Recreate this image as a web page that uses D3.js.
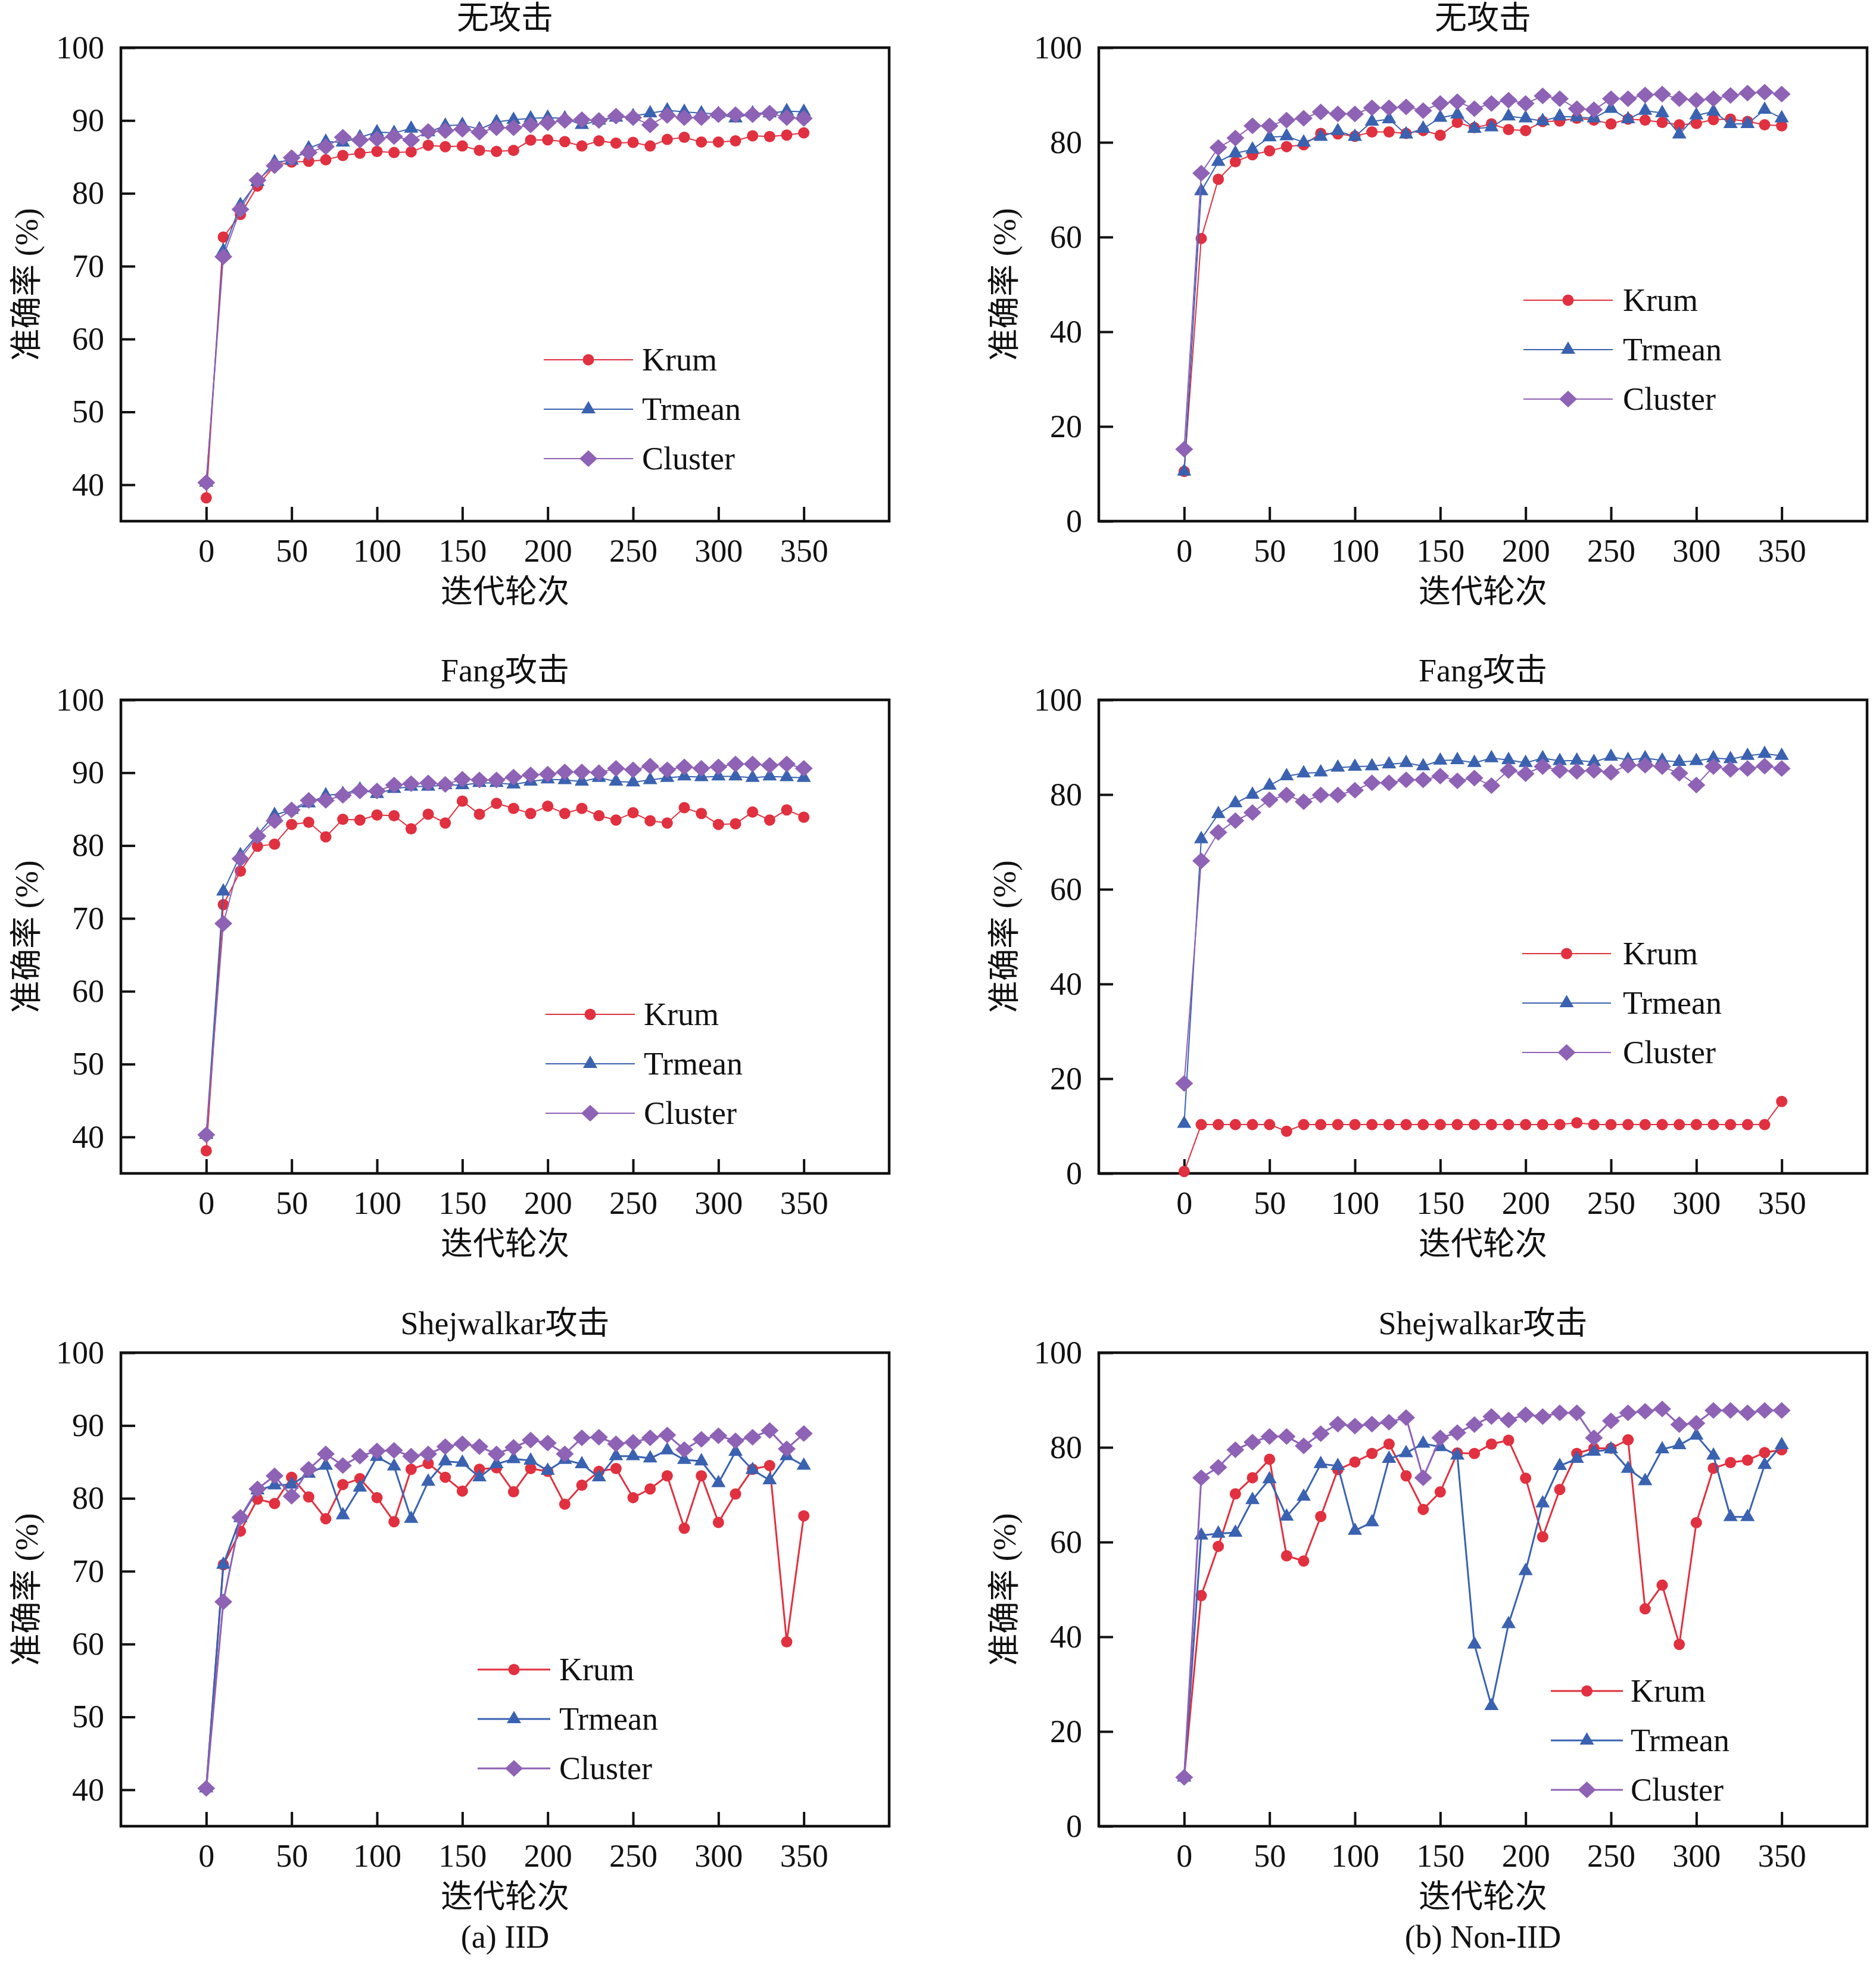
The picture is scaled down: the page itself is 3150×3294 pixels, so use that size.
<!DOCTYPE html>
<html>
<head>
<meta charset="utf-8">
<script src="https://cdn.jsdelivr.net/npm/d3@7"></script>
<style>
  html, body { margin: 0; padding: 0; background: #fff; }
  svg text { font-family: "Liberation Serif", "Noto Sans CJK SC", serif; fill: #111; }
</style>
</head>
<body>
<svg id="chart" width="3150" height="3294"></svg>
<script>
// ---------------- data ----------------
const iterations = [0,10,20,30,40,50,60,70,80,90,100,110,120,130,140,150,160,170,180,190,200,210,220,230,240,250,260,270,280,290,300,310,320,330,340,350];
const seriesNames = ["Krum", "Trmean", "Cluster"];
const xTicks = [0,50,100,150,200,250,300,350];
const yTicksIid = [40,50,60,70,80,90,100];
const yTicksNonIid = [0,20,40,60,80,100];
const panelTitles = ["无攻击", "无攻击", "Fang攻击", "Fang攻击", "Shejwalkar攻击", "Shejwalkar攻击"];
const xAxisTitle = "迭代轮次";
const yAxisTitle = "准确率 (%)";
const subCaptions = ["(a) IID", "(b) Non-IID"];

// IID, no attack
const krumIidNone    = [38.2,74.0,77.1,81.0,83.8,84.3,84.4,84.6,85.2,85.5,85.75,85.6,85.7,86.6,86.4,86.5,85.9,85.75,85.9,87.3,87.35,87.1,86.5,87.2,86.9,87.0,86.5,87.4,87.7,87.05,87.05,87.2,87.9,87.8,88.0,88.3];
const trmeanIidNone  = [40.3,72.1,78.4,81.6,84.3,84.5,86.2,87.1,87.0,87.7,88.4,88.3,88.9,88.4,89.3,89.4,88.8,89.8,90.1,90.3,90.4,90.3,89.4,90.0,90.4,90.6,91.0,91.4,91.2,91.0,90.9,90.3,91.0,91.0,91.3,91.2];
const clusterIidNone = [40.3,71.3,77.8,81.8,83.8,84.9,85.6,86.4,87.7,87.3,87.5,87.8,87.3,88.5,88.6,88.8,88.4,89.0,89.0,89.4,89.7,90.0,90.1,90.0,90.6,90.4,89.4,90.7,90.4,90.4,90.8,90.8,90.8,91.0,90.4,90.3];

// Non-IID, no attack
const krumNonIidNone    = [10.5,59.7,72.2,75.9,77.4,78.2,79.1,79.5,81.9,81.8,81.3,82.2,82.2,81.9,82.5,81.5,84.2,83.1,83.9,82.7,82.5,84.4,84.5,85.1,84.7,83.9,84.9,84.7,84.2,83.7,84.0,84.8,84.9,84.4,83.7,83.5];
const trmeanNonIidNone  = [10.5,69.7,75.9,77.7,78.5,81.1,81.3,80.0,81.2,82.4,81.2,84.4,84.9,81.7,82.9,85.2,85.9,82.9,83.2,85.5,85.1,84.5,85.5,85.3,85.1,87.1,84.9,86.7,86.2,81.7,85.7,86.5,83.9,83.9,86.9,85.1];
const clusterNonIidNone = [15.2,73.5,78.9,80.9,83.5,83.5,84.7,85.1,86.4,86.0,86.0,87.3,87.3,87.5,86.7,88.2,88.6,87.1,88.2,88.9,88.2,89.8,89.2,87.1,86.9,89.2,89.2,90.0,90.2,89.2,88.9,89.2,89.9,90.4,90.6,90.2];

// IID, Fang attack
const krumIidFang    = [38.1,71.9,76.5,79.9,80.2,82.9,83.2,81.2,83.6,83.5,84.2,84.1,82.3,84.3,83.1,86.1,84.3,85.8,85.1,84.4,85.4,84.4,85.1,84.1,83.5,84.5,83.4,83.1,85.2,84.4,82.9,83.0,84.6,83.5,84.9,83.9];
const trmeanIidFang  = [40.3,73.7,78.7,81.5,84.2,84.9,85.8,86.9,87.1,87.7,87.1,87.8,88.1,88.1,88.3,88.3,88.6,88.6,88.4,88.8,89.1,89.0,88.8,89.3,88.8,88.7,89.0,89.3,89.5,89.4,89.5,89.5,89.3,89.5,89.4,89.3];
const clusterIidFang = [40.3,69.3,78.2,81.3,83.4,84.9,86.2,86.2,86.9,87.5,87.5,88.3,88.5,88.6,88.4,89.1,89.0,89.0,89.4,89.7,89.8,90.1,90.1,90.0,90.6,90.4,90.9,90.4,90.8,90.6,90.8,91.2,91.2,91.0,91.2,90.6];

// Non-IID, Fang attack
const krumNonIidFang    = [0.4,10.3,10.3,10.3,10.3,10.3,8.9,10.3,10.3,10.3,10.3,10.3,10.3,10.3,10.3,10.3,10.3,10.3,10.3,10.3,10.3,10.3,10.3,10.7,10.3,10.3,10.3,10.3,10.3,10.3,10.3,10.3,10.3,10.3,10.3,15.2];
const trmeanNonIidFang  = [10.5,70.6,75.9,78.2,80.0,81.9,83.9,84.5,84.7,85.7,85.9,86.0,86.4,86.7,86.0,87.2,87.3,86.7,87.7,87.3,86.7,87.7,87.1,87.2,86.9,88.0,87.3,87.7,87.2,86.9,87.1,87.7,87.5,88.2,88.6,88.2];
const clusterNonIidFang = [19.0,66.0,72.0,74.5,76.2,78.9,79.9,78.5,79.9,79.9,80.9,82.5,82.5,83.1,83.1,83.9,82.9,83.5,81.9,85.1,84.4,85.9,85.1,84.9,85.1,84.7,86.2,86.2,85.9,84.5,82.0,85.9,85.3,85.5,86.0,85.5];

// IID, Shejwalkar attack
const krumIidShej    = [40.2,70.9,75.5,79.9,79.3,82.9,80.2,77.2,81.9,82.7,80.1,76.8,84.0,84.8,82.9,81.0,84.0,84.2,80.9,84.1,83.7,79.2,81.8,83.7,84.1,80.1,81.3,83.1,75.9,83.1,76.7,80.6,84.0,84.5,60.3,77.6];
const trmeanIidShej  = [40.2,70.9,77.3,81.1,81.8,81.9,83.4,84.5,77.7,81.5,85.7,84.4,77.2,82.3,85.1,84.9,82.9,84.7,85.4,85.2,83.8,85.3,84.7,82.9,85.8,85.8,85.5,86.6,85.3,85.1,82.1,86.4,83.9,82.5,85.8,84.5];
const clusterIidShej = [40.2,65.8,77.4,81.3,83.1,80.3,84.0,86.1,84.5,85.8,86.5,86.6,85.8,86.1,87.1,87.5,87.1,86.1,87.0,88.0,87.6,86.1,88.3,88.4,87.5,87.7,88.3,88.7,86.7,88.1,88.6,87.9,88.4,89.3,86.8,88.9];

// Non-IID, Shejwalkar attack
const krumNonIidShej    = [10.3,48.7,59.1,70.2,73.6,77.5,57.1,56.0,65.4,75.3,76.9,78.7,80.7,74.0,66.9,70.6,78.8,78.7,80.7,81.5,73.5,61.1,71.1,78.7,79.8,79.8,81.6,45.9,50.9,38.4,64.1,75.6,76.8,77.3,78.9,79.5];
const trmeanNonIidShej  = [10.3,61.4,61.8,62.0,68.9,73.3,65.4,69.6,76.5,76.1,62.4,64.2,77.6,78.8,80.8,80.1,78.3,38.4,25.4,42.7,53.9,68.2,76.1,77.6,79.1,79.6,75.5,72.9,79.6,80.5,82.5,78.3,65.3,65.3,76.3,80.5];
const clusterNonIidShej = [10.3,73.6,75.8,79.5,81.1,82.3,82.3,80.3,82.9,84.9,84.5,84.9,85.3,86.3,73.6,82.0,83.1,84.8,86.5,85.8,86.9,86.5,87.3,87.3,82.0,85.6,87.3,87.6,88.1,84.8,85.1,87.8,87.8,87.3,87.8,87.8];

// ---------------- layout / style ----------------
const colors = ["#E1303F", "#3A62B0", "#8E62B5"];
const colLeft = [203, 1845];
const rowTop = [80, 1175, 2271];
const plotW = 1290, plotH = 795;
const fontSize = 54;

const panels = [
  {col:0,row:0, yDomain:[35,100], yTicks:yTicksIid,    series:[krumIidNone, trmeanIidNone, clusterIidNone],          legend:{x1:710,x2:860,tx:875,y0:524}, lw:2},
  {col:1,row:0, yDomain:[0,100],  yTicks:yTicksNonIid, series:[krumNonIidNone, trmeanNonIidNone, clusterNonIidNone], legend:{x1:713,x2:863,tx:880,y0:424}, lw:2},
  {col:0,row:1, yDomain:[35,100], yTicks:yTicksIid,    series:[krumIidFang, trmeanIidFang, clusterIidFang],          legend:{x1:713,x2:863,tx:878,y0:528}, lw:2},
  {col:1,row:1, yDomain:[0,100],  yTicks:yTicksNonIid, series:[krumNonIidFang, trmeanNonIidFang, clusterNonIidFang], legend:{x1:711,x2:860,tx:880,y0:426}, lw:2},
  {col:0,row:2, yDomain:[35,100], yTicks:yTicksIid,    series:[krumIidShej, trmeanIidShej, clusterIidShej],          legend:{x1:599,x2:721,tx:736,y0:532}, lw:3},
  {col:1,row:2, yDomain:[0,100],  yTicks:yTicksNonIid, series:[krumNonIidShej, trmeanNonIidShej, clusterNonIidShej], legend:{x1:759,x2:880,tx:893,y0:568}, lw:3}
];
const legendGap = 83;

const svg = d3.select("#chart");
svg.append("rect").attr("width", 3150).attr("height", 3294).attr("fill", "#fff");

function markerPath(k) {
  if (k === 0) return d3.symbol().type(d3.symbolCircle).size(Math.PI * 9.5 * 9.5)();
  if (k === 1) return d3.symbol().type(d3.symbolTriangle).size(250)();
  return "M0,-14L15,0L0,14L-15,0Z";
}

panels.forEach((p, i) => {
  const g = svg.append("g").attr("transform", `translate(${colLeft[p.col]},${rowTop[p.row]})`);
  const x = d3.scaleLinear().domain([-50, 400]).range([0, plotW]);
  const y = d3.scaleLinear().domain(p.yDomain).range([plotH, 0]);

  // axes (ticks inward)
  const xa = g.append("g").attr("transform", `translate(0,${plotH})`)
    .call(d3.axisBottom(x).tickValues(xTicks).tickSizeInner(-24).tickSizeOuter(0).tickPadding(30));
  const ya = g.append("g")
    .call(d3.axisLeft(y).tickValues(p.yTicks.filter(v => v >= p.yDomain[0])).tickSizeInner(-24).tickSizeOuter(0).tickPadding(28));
  [xa, ya].forEach(a => {
    a.select(".domain").remove();
    a.selectAll("line").attr("stroke", "#111").attr("stroke-width", 4);
    a.selectAll("text").attr("font-size", fontSize)
      .style("font-family", '"Liberation Serif", serif').attr("fill", "#111");
  });

  // frame
  g.append("rect").attr("x", 0).attr("y", 0).attr("width", plotW).attr("height", plotH)
    .attr("fill", "none").attr("stroke", "#111").attr("stroke-width", 4.5);

  // series
  p.series.forEach((vals, k) => {
    const pts = iterations.map((it, j) => [it, vals[j]]);
    g.append("path").datum(pts)
      .attr("fill", "none").attr("stroke", colors[k]).attr("stroke-width", p.lw)
      .attr("d", d3.line().x(d => x(d[0])).y(d => y(d[1])));
    g.selectAll(null).data(pts).enter().append("path")
      .attr("d", markerPath(k))
      .attr("transform", d => `translate(${x(d[0])},${y(d[1])})`)
      .attr("fill", colors[k]);
  });

  // legend
  seriesNames.forEach((name, k) => {
    const ly = p.legend.y0 + k * legendGap;
    g.append("line").attr("x1", p.legend.x1).attr("x2", p.legend.x2).attr("y1", ly).attr("y2", ly)
      .attr("stroke", colors[k]).attr("stroke-width", p.lw);
    g.append("path").attr("d", markerPath(k))
      .attr("transform", `translate(${(p.legend.x1 + p.legend.x2) / 2},${ly})`).attr("fill", colors[k]);
    g.append("text").attr("x", p.legend.tx).attr("y", ly + 18)
      .attr("font-size", fontSize).text(name);
  });

  // titles
  g.append("text").attr("x", plotW / 2).attr("y", -31).attr("text-anchor", "middle")
    .attr("font-size", fontSize).text(panelTitles[i]);
  g.append("text").attr("x", plotW / 2).attr("y", plotH + 137).attr("text-anchor", "middle")
    .attr("font-size", fontSize).text(xAxisTitle);
  g.append("text").attr("transform", `translate(-140,${plotH / 2}) rotate(-90)`)
    .attr("text-anchor", "middle").attr("font-size", fontSize).text(yAxisTitle);
});

subCaptions.forEach((t, c) => {
  svg.append("text").attr("x", colLeft[c] + plotW / 2).attr("y", 3270)
    .attr("text-anchor", "middle").attr("font-size", fontSize).text(t);
});
</script>
</body>
</html>
